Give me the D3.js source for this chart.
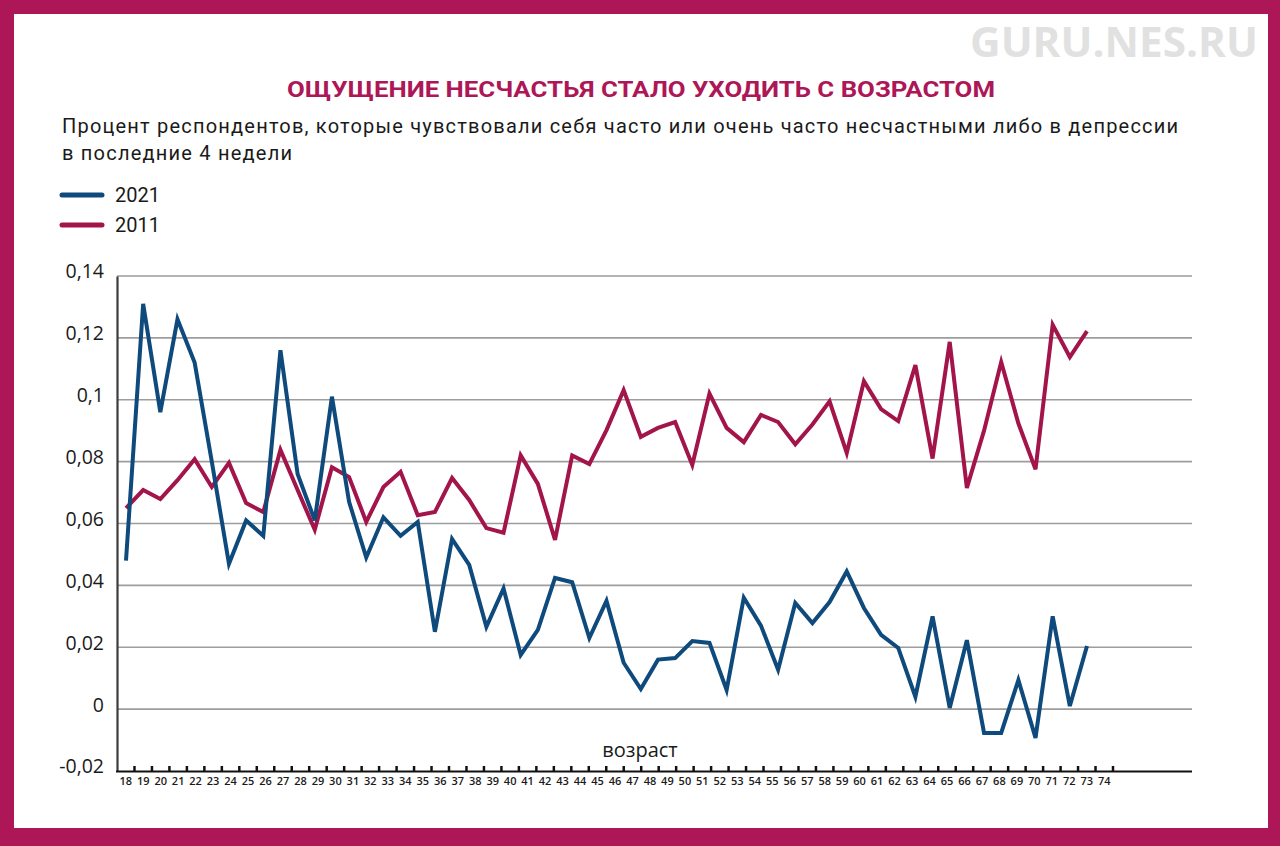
<!DOCTYPE html>
<html><head><meta charset="utf-8">
<script src="https://cdn.jsdelivr.net/npm/d3@7"></script>
<style>
html,body{margin:0;padding:0;background:#fff;}
svg{display:block;}
</style></head>
<body>
<svg id="chart" width="1280" height="846"></svg>
<script>
const ages = d3.range(18, 75);
const series2021 = [0.048,0.131,0.096,0.126,0.112,0.080,0.047,0.061,0.056,0.116,0.076,0.061,0.101,0.067,0.049,0.062,0.056,0.0605,0.025,0.055,0.0466,0.0266,0.039,0.0175,0.0256,0.0424,0.041,0.023,0.035,0.015,0.0065,0.016,0.0165,0.022,0.0214,0.0062,0.036,0.027,0.0127,0.0343,0.0278,0.0346,0.0445,0.0327,0.024,0.0198,0.004,0.030,0.0004,0.0223,-0.0077,-0.0077,0.0094,-0.0093,0.030,0.001,0.0204];
const series2011 = [0.065,0.0708,0.0679,0.074,0.0808,0.0718,0.0796,0.0666,0.0637,0.0838,0.0708,0.058,0.0782,0.075,0.0605,0.0718,0.0767,0.0627,0.0637,0.0747,0.0676,0.0585,0.057,0.082,0.0728,0.0547,0.082,0.0792,0.0902,0.1031,0.088,0.0909,0.0928,0.0789,0.102,0.0909,0.0863,0.0951,0.0928,0.0856,0.092,0.0995,0.0828,0.106,0.097,0.0931,0.1112,0.081,0.1187,0.0715,0.090,0.1122,0.0924,0.0775,0.1242,0.1138,0.1222];
const yTicks = [0.14,0.12,0.1,0.08,0.06,0.04,0.02,0,-0.02];
const yTickLabels = ["0,14","0,12","0,1","0,08","0,06","0,04","0,02","0","-0,02"];
const seriesNames = ["2021","2011"];
const titleText = "ОЩУЩЕНИЕ НЕСЧАСТЬЯ СТАЛО УХОДИТЬ С ВОЗРАСТОМ";
const subtitle1 = "Процент респондентов, которые чувствовали себя часто или очень часто несчастными либо в депрессии";
const subtitle2 = "в последние 4 недели";
const xTitle = "возраст";
const watermark = "GURU.NES.RU";

const BLUE = "#0f4a7c", RED = "#a3154a", FRAME = "#ad1758";
const svg = d3.select("#chart");

// frame
svg.append("rect").attr("x",0).attr("y",0).attr("width",1280).attr("height",846).attr("fill",FRAME);
svg.append("rect").attr("x",14).attr("y",14).attr("width",1254).attr("height",814).attr("fill","#fff");

// watermark
svg.append("text").attr("x",1258).attr("y",57).attr("text-anchor","end")
  .attr("font-family","Open Sans, sans-serif").attr("font-weight",700).attr("font-size",41)
  .attr("fill","#e1e1e1").attr("textLength",288).attr("lengthAdjust","spacingAndGlyphs").text(watermark);

// title
svg.append("text").attr("x",641).attr("y",97).attr("text-anchor","middle")
  .attr("font-family","Roboto, sans-serif").attr("font-weight",700).attr("font-size",22)
  .attr("fill",FRAME).attr("textLength",708).attr("lengthAdjust","spacingAndGlyphs").text(titleText);

svg.append("text").attr("x",62).attr("y",133)
  .attr("font-family","Roboto, sans-serif").attr("font-size",20).attr("fill","#1a1a1a")
  .attr("textLength",1116).attr("lengthAdjust","spacing").text(subtitle1);
svg.append("text").attr("x",62).attr("y",160)
  .attr("font-family","Roboto, sans-serif").attr("font-size",20).attr("fill","#1a1a1a")
  .attr("textLength",230).attr("lengthAdjust","spacing").text(subtitle2);

// legend
const legColors = [BLUE, RED];
seriesNames.forEach((n,i)=>{
  const ly = 195 + i*30;
  svg.append("line").attr("x1",62).attr("x2",102).attr("y1",ly).attr("y2",ly)
    .attr("stroke",legColors[i]).attr("stroke-width",5).attr("stroke-linecap","round");
  svg.append("text").attr("x",115).attr("y",ly+7).attr("font-family","Roboto, sans-serif")
    .attr("font-size",20).attr("fill","#1a1a1a").text(n);
});

// scales
const y = d3.scaleLinear().domain([-0.02,0.14]).range([771,276]);
const xData = d3.scalePoint().domain(ages).range([126,1087]);
const xBand = d3.scaleBand().domain(ages).range([117,1113]);
const plotRight = 1192;

// gridlines
svg.append("g").selectAll("line").data(yTicks.filter(v=>v!==-0.02)).join("line")
  .attr("x1",117).attr("x2",plotRight).attr("y1",d=>y(d)).attr("y2",d=>y(d))
  .attr("stroke","#9d9d9d").attr("stroke-width",1.6);

// y axis
const yAxis = d3.axisLeft(y).tickValues(yTicks).tickSize(0).tickPadding(13)
  .tickFormat((d,i)=>yTickLabels[i]);
const gy = svg.append("g").attr("transform","translate(117,0)").call(yAxis);
gy.select(".domain").attr("stroke","#3c3c3c").attr("stroke-width",2.2);
gy.selectAll("text").attr("font-family","Open Sans, sans-serif").attr("font-size",19.5).attr("fill","#1a1a1a").attr("dy","0.1em");

// x axis (category band labels)
const xAxis = d3.axisBottom(xBand).tickSize(0).tickPadding(6);
const gx = svg.append("g").attr("transform","translate(0,771)").call(xAxis);
gx.select(".domain").remove();
gx.selectAll("text").attr("font-family","Open Sans, sans-serif").attr("font-size",11)
  .attr("font-weight",600).attr("fill","#1a1a1a");
svg.append("line").attr("x1",116).attr("x2",plotRight).attr("y1",771.5).attr("y2",771.5)
  .attr("stroke","#111").attr("stroke-width",2);
svg.append("g").selectAll("line").data(ages).join("line")
  .attr("x1",d=>xBand(d)+xBand.bandwidth()).attr("x2",d=>xBand(d)+xBand.bandwidth())
  .attr("y1",766).attr("y2",771).attr("stroke","#111").attr("stroke-width",2.5);

svg.append("text").attr("x",640).attr("y",757).attr("text-anchor","middle")
  .attr("font-family","Open Sans, sans-serif").attr("font-size",20).attr("fill","#1a1a1a").text(xTitle);

// lines
const line = d3.line().x((d,i)=>xData(ages[i])).y(d=>y(d));
svg.append("path").datum(series2011).attr("d",line).attr("fill","none")
  .attr("stroke",RED).attr("stroke-width",4).attr("stroke-linejoin","miter");
svg.append("path").datum(series2021).attr("d",line).attr("fill","none")
  .attr("stroke",BLUE).attr("stroke-width",4).attr("stroke-linejoin","miter");
</script>
</body></html>
